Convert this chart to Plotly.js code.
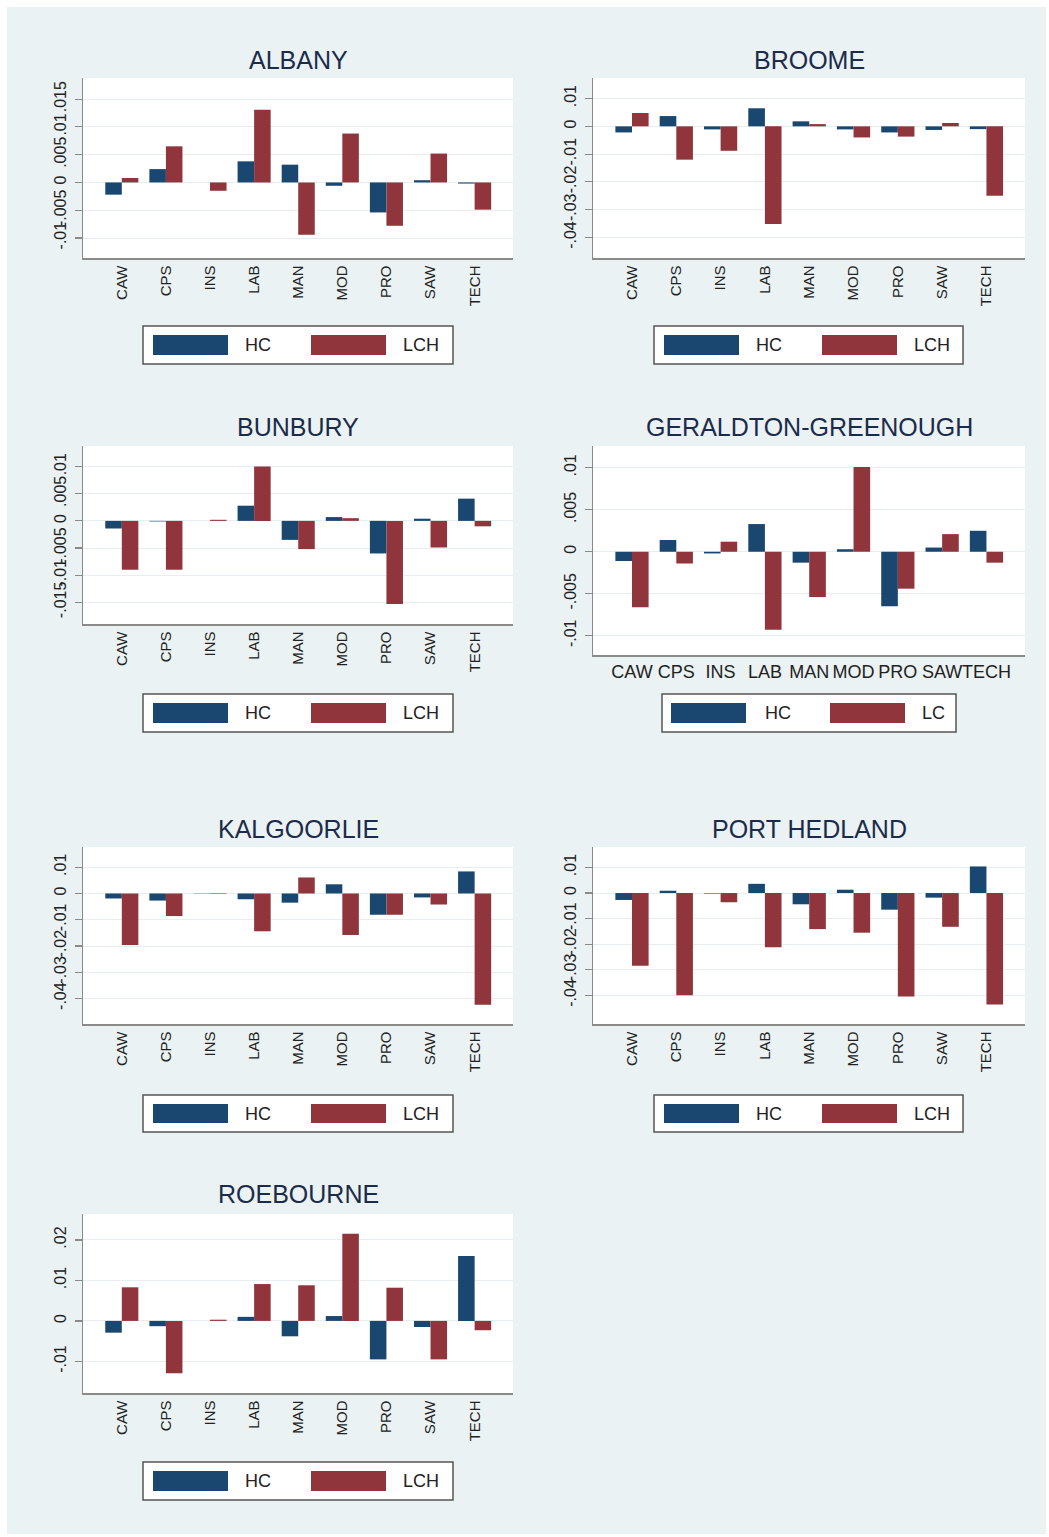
<!DOCTYPE html>
<html>
<head>
<meta charset="utf-8">
<script src="https://cdn.plot.ly/plotly-3.0.1.min.js"></script>
<style>
  html, body { margin:0; padding:0; background:#ffffff; }
  #bg { position:absolute; left:7px; top:7px; width:1039px; height:1527px; background:#eaf2f3; }
  #chart { position:absolute; left:0; top:0; width:1049px; height:1537px; }
</style>
</head>
<body>
<div id="bg"></div>
<div id="chart"></div>
<script>
// ---------------- DATA ----------------
const categories = ['CAW','CPS','INS','LAB','MAN','MOD','PRO','SAW','TECH'];

const albanyHC  = [-0.0022, 0.0024, 0.0000, 0.0038, 0.0032, -0.0006, -0.0054, 0.0004, -0.0002];
const albanyLCH = [ 0.0008, 0.0065, -0.0015, 0.0131, -0.0094, 0.0088, -0.0078, 0.0052, -0.0049];

const broomeHC  = [-0.0022, 0.0037, -0.0011, 0.0065, 0.0018, -0.0011, -0.0022, -0.0013, -0.0010];
const broomeLCH = [ 0.0048, -0.0120, -0.0088, -0.0352, 0.0008, -0.0040, -0.0037, 0.0012, -0.0250];

const bunburyHC  = [-0.0014, -0.0001, 0.0000, 0.0028, -0.0035, 0.0007, -0.0060, 0.0004, 0.0041];
const bunburyLCH = [-0.0090, -0.0090, 0.0002, 0.0100, -0.0052, 0.0005, -0.0153, -0.0049, -0.0010];

const geraldtonHC = [-0.0011, 0.0014, -0.0002, 0.0033, -0.0013, 0.0003, -0.0065, 0.0005, 0.0025];
const geraldtonLC = [-0.0066, -0.0014, 0.0012, -0.0093, -0.0054, 0.0101, -0.0044, 0.0021, -0.0013];

const kalgoorlieHC  = [-0.0019, -0.0027, -0.0001, -0.0022, -0.0035, 0.0035, -0.0081, -0.0015, 0.0084];
const kalgoorlieLCH = [-0.0196, -0.0086, -0.0002, -0.0144, 0.0061, -0.0158, -0.0081, -0.0042, -0.0424];

const portHedlandHC  = [-0.0027, 0.0009, -0.0002, 0.0036, -0.0044, 0.0013, -0.0065, -0.0018, 0.0104];
const portHedlandLCH = [-0.0284, -0.0400, -0.0036, -0.0212, -0.0141, -0.0155, -0.0404, -0.0132, -0.0436];

const roebourneHC  = [-0.0029, -0.0013, 0.0000, 0.0010, -0.0038, 0.0012, -0.0095, -0.0015, 0.0160];
const roebourneLCH = [ 0.0083, -0.0129, 0.0003, 0.0091, 0.0088, 0.0215, 0.0082, -0.0095, -0.0023];

// tick labels
const ticksAlbany  = [-0.01, -0.005, 0, 0.005, 0.01, 0.015];
const labelsAlbany = ['-.01', '-.005', '0', '.005', '.01', '.015'];
const ticksFour    = [-0.04, -0.03, -0.02, -0.01, 0, 0.01];
const labelsFour   = ['-.04', '-.03', '-.02', '-.01', '0', '.01'];
const ticksBunbury  = [-0.015, -0.01, -0.005, 0, 0.005, 0.01];
const labelsBunbury = ['-.015', '-.01', '-.005', '0', '.005', '.01'];
const ticksGeraldton  = [-0.01, -0.005, 0, 0.005, 0.01];
const labelsGeraldton = ['-.01', '-.005', '0', '.005', '.01'];
const ticksRoebourne  = [-0.01, 0, 0.01, 0.02];
const labelsRoebourne = ['-.01', '0', '.01', '.02'];

// ---------------- STYLE ----------------
const HC_COLOR = '#1a476f';
const LC_COLOR = '#90353b';
const FONT = 'Liberation Sans, Arial, Helvetica, sans-serif';
const W = 1049, H = 1537;
const fx = x => x / W;
const fy = y => 1 - y / H;

const panels = [
  {title:'ALBANY', hc:albanyHC, lc:albanyLCH, lcName:'LCH', x0:83, x1:513, y0:78, y1:258, yr:[-0.0136, 0.0188], tv:ticksAlbany, tt:labelsAlbany, ty:60,
   leg:{bx0:143, bx1:453, by0:326, by1:364, s1:153, t1:243, s2:311, t2:401}, rot:true},
  {title:'BROOME', hc:broomeHC, lc:broomeLCH, lcName:'LCH', x0:593, x1:1025, y0:78, y1:258, yr:[-0.0474, 0.0174], tv:ticksFour, tt:labelsFour, ty:60,
   leg:{bx0:654, bx1:963, by0:326, by1:364, s1:664, t1:754, s2:822, t2:912}, rot:true},
  {title:'BUNBURY', hc:bunburyHC, lc:bunburyLCH, lcName:'LCH', x0:83, x1:513, y0:446, y1:624, yr:[-0.019, 0.0138], tv:ticksBunbury, tt:labelsBunbury, ty:427,
   leg:{bx0:143, bx1:453, by0:694, by1:732, s1:153, t1:243, s2:311, t2:401}, rot:true},
  {title:'GERALDTON-GREENOUGH', hc:geraldtonHC, lc:geraldtonLC, lcName:'LC', x0:593, x1:1025, y0:446, y1:655, yr:[-0.0123, 0.0126], tv:ticksGeraldton, tt:labelsGeraldton, ty:427,
   leg:{bx0:662, bx1:956, by0:694, by1:732, s1:671, t1:763, s2:830, t2:920}, rot:false},
  {title:'KALGOORLIE', hc:kalgoorlieHC, lc:kalgoorlieLCH, lcName:'LCH', x0:83, x1:513, y0:847, y1:1024, yr:[-0.0497, 0.0177], tv:ticksFour, tt:labelsFour, ty:829,
   leg:{bx0:143, bx1:453, by0:1095, by1:1132, s1:153, t1:243, s2:311, t2:401}, rot:true},
  {title:'PORT HEDLAND', hc:portHedlandHC, lc:portHedlandLCH, lcName:'LCH', x0:593, x1:1025, y0:847, y1:1024, yr:[-0.0512, 0.018], tv:ticksFour, tt:labelsFour, ty:829,
   leg:{bx0:654, bx1:963, by0:1095, by1:1132, s1:664, t1:754, s2:822, t2:912}, rot:true},
  {title:'ROEBOURNE', hc:roebourneHC, lc:roebourneLCH, lcName:'LCH', x0:83, x1:513, y0:1214, y1:1393, yr:[-0.0178, 0.0264], tv:ticksRoebourne, tt:labelsRoebourne, ty:1194,
   leg:{bx0:143, bx1:453, by0:1462, by1:1500, s1:153, t1:243, s2:311, t2:401}, rot:true}
];

const traces = [];
const layout = {
  width: W, height: H,
  margin: {l:0, r:0, t:0, b:0, pad:0},
  paper_bgcolor: 'rgba(0,0,0,0)',
  plot_bgcolor: '#ffffff',
  barmode: 'group',
  bargap: 0.25,
  bargroupgap: 0,
  showlegend: false,
  font: {family: FONT, color: '#222222'},
  annotations: [],
  shapes: []
};

panels.forEach((p, i) => {
  const k = i === 0 ? '' : String(i + 1);
  const xa = 'x' + k, ya = 'y' + k;
  traces.push({type:'bar', name:'HC', x:categories, y:p.hc, xaxis:xa, yaxis:ya,
               marker:{color:HC_COLOR, line:{width:0}}, hoverinfo:'x+y'});
  traces.push({type:'bar', name:p.lcName, x:categories, y:p.lc, xaxis:xa, yaxis:ya,
               marker:{color:LC_COLOR, line:{width:0}}, hoverinfo:'x+y'});

  layout['xaxis' + k] = {
    domain:[fx(p.x0), fx(p.x1)], anchor:ya, type:'category',
    range:[-0.88, 8.87], showgrid:false, zeroline:false,
    showline:true, linecolor:'#8a8a8a', linewidth:1.5,
    ticks:'', tickangle: p.rot ? -90 : 0,
    tickfont:{family:FONT, size: p.rot ? 15 : 18, color:'#222222'},
    fixedrange:true
  };
  layout['yaxis' + k] = {
    domain:[fy(p.y1), fy(p.y0)], anchor:xa,
    range:p.yr, tickmode:'array', tickvals:p.tv, ticktext:p.tt,
    tickangle:-90, tickfont:{family:FONT, size:16, color:'#222222'},
    ticks:'outside', ticklen:7, tickcolor:'#8a8a8a', tickwidth:1.2,
    ticklabelstandoff:2,
    showgrid:true, gridcolor:'#e6eef0', gridwidth:1,
    zeroline:false, showline:true, linecolor:'#8a8a8a', linewidth:1.5,
    fixedrange:true
  };

  // title
  layout.annotations.push({
    text:p.title, xref:'paper', yref:'paper', x:fx((p.x0 + p.x1) / 2), y:fy(p.ty),
    xanchor:'center', yanchor:'middle', showarrow:false,
    font:{family:FONT, size:25, color:'#1c2b4a'}
  });

  // legend box and swatches
  const L = p.leg;
  layout.shapes.push({type:'rect', xref:'paper', yref:'paper',
    x0:fx(L.bx0), x1:fx(L.bx1), y0:fy(L.by1), y1:fy(L.by0),
    fillcolor:'#ffffff', line:{color:'#555555', width:1.5}});
  const sy0 = L.by0 + 9, sy1 = L.by1 - 9;
  layout.shapes.push({type:'rect', xref:'paper', yref:'paper',
    x0:fx(L.s1), x1:fx(L.s1 + 75), y0:fy(sy1), y1:fy(sy0),
    fillcolor:HC_COLOR, line:{width:0}});
  layout.shapes.push({type:'rect', xref:'paper', yref:'paper',
    x0:fx(L.s2), x1:fx(L.s2 + 75), y0:fy(sy1), y1:fy(sy0),
    fillcolor:LC_COLOR, line:{width:0}});
  const ly = fy((L.by0 + L.by1) / 2);
  layout.annotations.push({text:'HC', xref:'paper', yref:'paper', x:fx(L.t1), y:ly,
    xanchor:'left', yanchor:'middle', showarrow:false, font:{family:FONT, size:18, color:'#222222'}});
  layout.annotations.push({text:p.lcName, xref:'paper', yref:'paper', x:fx(L.t2), y:ly,
    xanchor:'left', yanchor:'middle', showarrow:false, font:{family:FONT, size:18, color:'#222222'}});
});

Plotly.newPlot('chart', traces, layout, {staticPlot:true, displayModeBar:false});
</script>
</body>
</html>
